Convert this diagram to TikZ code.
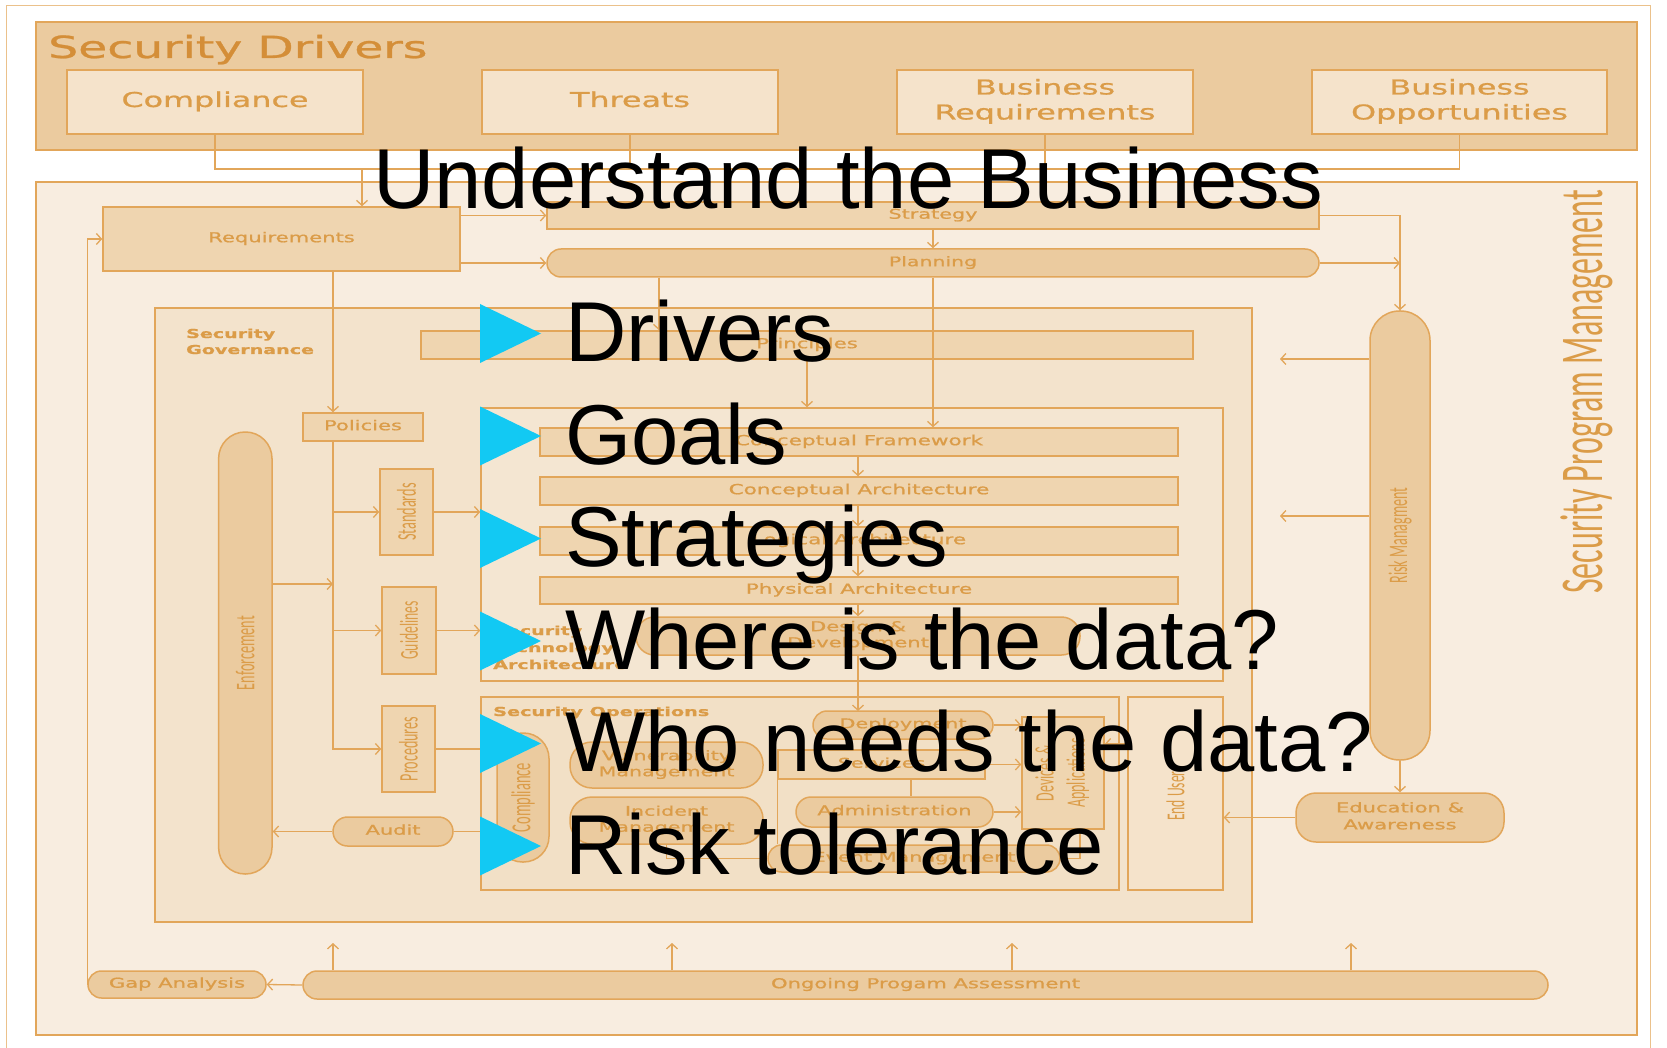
\documentclass[tikz,border=0pt]{standalone}
\usepackage{graphicx}
\usepackage{fontspec}
\setmainfont{Liberation Sans}
\newfontfamily\djfont[FakeBold=0.8]{DejaVu Sans}
\newfontfamily\cbfont{Carlito}
\usetikzlibrary{arrows.meta}
\definecolor{bord}{HTML}{E2A65A}
\definecolor{tanf}{HTML}{EBCB9F}
\definecolor{tanl}{HTML}{EFD5B0}
\definecolor{lightf}{HTML}{F5E3CB}
\definecolor{spmf}{HTML}{F8EDE0}
\definecolor{govf}{HTML}{F3E3CC}
\definecolor{staf}{HTML}{F4E6D2}
\definecolor{sof}{HTML}{F2E0C6}
\definecolor{txt}{HTML}{DB9C48}
\definecolor{sdt}{HTML}{D48E38}
\definecolor{cyanb}{HTML}{12C9F3}
\newcommand{\dtx}[3]{{\fontsize{#1}{#2}\selectfont\djfont\raisebox{-0.1em}{\scalebox{1.55}[1]{\begin{tabular}{@{}c@{}}#3\end{tabular}}}}}
\newcommand{\dts}[2]{{\fontsize{#1}{#1}\selectfont\djfont\scalebox{1.55}[1]{#2}}}
\newcommand{\dtb}[3]{{\fontsize{#1}{#2}\selectfont\djfont\bfseries\scalebox{1.55}[1]{\begin{tabular}[t]{@{}l@{}}#3\end{tabular}}}}
\newcommand{\rtx}[2]{{\fontsize{#1}{#1}\selectfont\cbfont\scalebox{1}[1.9]{#2}}}
\newcommand{\rtxm}[3]{{\fontsize{#1}{#2}\selectfont\cbfont\scalebox{1}[1.9]{\begin{tabular}{@{}c@{}}#3\end{tabular}}}}
\newcommand{\bx}[7]{\node[#2,minimum width={(#5)-(#3)},minimum height={(#6)-(#4)}] (#1) at ({((#3)+(#5))/2},{((#4)+(#6))/2}) {#7};}
\begin{document}
\begin{tikzpicture}[x=1pt,y=-1pt,
  ln/.style={draw=bord,line width=1.3pt},
  arr/.style={draw=bord,line width=1.3pt,-{Straight Barb[length=5pt,width=11pt]}},
  bxs/.style={draw=bord,line width=1.5pt,inner sep=0pt,text=txt},
  pill/.style={rounded corners=#1},
  lbl/.style={inner sep=0pt,text=txt},
  rlbl/.style={inner sep=0pt,text=txt,rotate=90},
  big/.style={inner sep=0pt,anchor=base west,text=black}]
\useasboundingbox (0,0) rectangle (1667,1048);
\fill[white] (0,0) rectangle (1667,1048);
\draw[bord!70,line width=1pt] (6,1048) -- (6,6) -- (1650,6) -- (1650,1048);

% ---- Security Drivers
\bx{sd}{bxs,fill=tanf}{36}{22}{1637}{150}{}
\node[lbl,anchor=base west,text=sdt] (sdl) at (48,58) {\dts{30.5}{Security Drivers}};
\bx{cmp}{bxs,fill=lightf}{67}{70}{363}{134}{\dtx{20.5}{25}{Compliance}}
\bx{thr}{bxs,fill=lightf}{482}{70}{778}{134}{\dtx{20.5}{25}{Threats}}
\bx{breq}{bxs,fill=lightf}{897}{70}{1193}{134}{\dtx{20.5}{25}{Business\\Requirements}}
\bx{bopp}{bxs,fill=lightf}{1312}{70}{1607}{134}{\dtx{20.5}{25}{Business\\Opportunities}}
\coordinate (bus) at (0,169);
\draw[ln] (cmp.south) |- (bopp.south |- bus) -- (bopp.south);
\draw[ln] (thr.south) -- (thr.south |- bus);
\draw[ln] (breq.south) -- (breq.south |- bus);

% ---- Security Program Management
\bx{spm}{bxs,fill=spmf}{36}{182}{1637}{1035}{}
\node[rlbl] (spml) at (1587,392) {\rtx{32}{Security Program Management}};

\bx{req}{bxs,fill=tanl}{103}{207}{460}{271}{\dtx{13.6}{16}{Requirements}}
\bx{strat}{bxs,fill=tanl}{547}{202}{1319}{229}{\dtx{13.4}{16}{Strategy}}
\bx{plan}{bxs,fill=tanf,pill=14}{547}{249}{1319}{277}{\dtx{13.2}{16}{Planning}}
\coordinate (rqx) at (362,0);
\draw[arr] (bus -| rqx) -- (req.north -| rqx);
\draw[arr] (req.east |- strat.west) -- (strat.west);
\draw[arr] (req.east |- plan.west) -- (plan.west);
\draw[arr] (strat.south) -- (plan.north);

\bx{rm}{bxs,fill=tanf,pill=29.5}{1370}{311}{1430}{760}{}
\node[rlbl] (rml) at (rm.center) {\rtx{14.1}{Risk Managment}};
\draw[arr] (strat.east) -| (rm.north);
\draw[arr] (plan.east) -- (plan.east -| rm.north);
\coordinate (rma) at (1280,359);
\coordinate (rmb) at (1280,516);
\draw[arr] (rm.west |- rma) -- (rma);
\draw[arr] (rm.west |- rmb) -- (rmb);
\bx{edu}{bxs,fill=tanf,pill=20}{1296}{793}{1504}{842}{\dtx{13.6}{17}{Education \&\\Awareness}}
\draw[arr] (rm.south) -- (edu.north);

% ---- Security Governance
\bx{gov}{bxs,fill=govf}{155}{308}{1252}{922}{}
\node[lbl,anchor=base west] (govl) at (186,338) {\dtb{12.3}{16}{Security\\Governance}};
\bx{prin}{bxs,fill=tanl}{421}{331}{1193}{359}{\dtx{13.7}{16}{Principles}}
\bx{pol}{bxs,fill=tanl}{303}{413}{423}{441}{\dtx{13.6}{16}{Policies}}
\coordinate (px) at (333,0);
\coordinate (qx) at (659,0);
\coordinate (rx) at (933,0);
\coordinate (sx) at (807,0);
\coordinate (cx) at (858,0);
\draw[arr] (req.south -| px) -- (pol.north -| px);
\draw[arr] (plan.south -| qx) -- (prin.north -| qx);

% ---- Security Technology Architecture
\bx{sta}{bxs,fill=staf}{481}{408}{1223}{681}{}
\node[lbl,anchor=base west] (stal) at (493,635) {\dtb{12.3}{17}{Security\\Technology\\Architecture}};
\bx{cf}{bxs,fill=tanl}{540}{428}{1178}{456}{\dtx{13.9}{16}{Conceptual Framework}}
\bx{ca}{bxs,fill=tanl}{540}{477}{1178}{505}{\dtx{13.9}{16}{Conceptual Architecture}}
\bx{la}{bxs,fill=tanl}{540}{527}{1178}{555}{\dtx{13.9}{16}{Logical Architecture}}
\bx{pa}{bxs,fill=tanl}{540}{577}{1178}{604}{\dtx{13.9}{16}{Physical Architecture}}
\bx{dd}{bxs,fill=tanf,pill=18.5}{636}{617}{1080}{655}{\dtx{13.6}{16}{Design \&\\Development}}
\draw[arr] (plan.south -| rx) -- (cf.north -| rx);
\draw[arr] (prin.south -| sx) -- (sta.north -| sx);
\draw[arr] (cf.south -| cx) -- (ca.north -| cx);
\draw[arr] (ca.south -| cx) -- (la.north -| cx);
\draw[arr] (la.south -| cx) -- (pa.north -| cx);
\draw[arr] (pa.south -| cx) -- (dd.north -| cx);

% ---- Standards, guidelines, procedures
\bx{std}{bxs,fill=tanl}{380}{469}{433}{555}{}
\node[rlbl] (stdl) at (std.center) {\rtx{14.3}{Standards}};
\bx{gdl}{bxs,fill=tanl}{382}{587}{436}{674}{}
\node[rlbl] (gdll) at (gdl.center) {\rtx{13.6}{Guidelines}};
\bx{prc}{bxs,fill=tanl}{382}{706}{435}{792}{}
\node[rlbl] (prcl) at (prc.center) {\rtx{14.1}{Procedures}};
\draw[arr] (pol.south -| px) |- (prc.west);
\draw[arr] (px |- std.west) -- (std.west);
\draw[arr] (px |- gdl.west) -- (gdl.west);
\draw[arr] (std.east) -- (std.east -| sta.west);
\draw[arr] (gdl.east) -- (gdl.east -| sta.west);

\bx{enf}{bxs,fill=tanf,pill=26.5}{218.6}{432}{272}{874}{}
\node[rlbl] (enfl) at (enf.center) {\rtx{14.2}{Enforcement}};
\coordinate (ey) at (0,584);
\draw[arr] (enf.east |- ey) -- (px |- ey);
\bx{aud}{bxs,fill=tanf,pill=14.5}{333}{817}{453}{846}{\dtx{13.5}{16}{Audit}}
\draw[arr] (aud.west) -- (aud.west -| enf.east);

% ---- Security Operations
\bx{so}{bxs,fill=sof}{481}{697}{1119}{890}{}
\node[lbl,anchor=base west] (sol) at (493,716) {\dtb{12.4}{16}{Security Operations}};
\draw[ln] (prc.east) -- (prc.east -| so.west);
\draw[ln] (so.west |- aud.east) -- (aud.east);
\draw[arr] (dd.south -| cx) -- (cx |- 0,711);
\bx{scmp}{bxs,fill=tanf,pill=25.5}{497}{733}{549}{862}{}
\node[rlbl] (scmpl) at (scmp.center) {\rtx{14.5}{Compliance}};
\bx{vm}{bxs,fill=tanf,pill=22}{570}{742}{763}{788}{\dtx{13.3}{16}{Vulnerability\\Management}}
\bx{im}{bxs,fill=tanf,pill=22}{570}{797}{763}{844}{\dtx{13.3}{16}{Incident\\Management}}
\bx{dep}{bxs,fill=tanf,pill=14}{813}{711}{993}{739}{\dtx{13.4}{16}{Deployment}}
\bx{svc}{bxs,fill=tanl}{778}{750}{985}{779}{\dtx{13.4}{16}{Services}}
\bx{adm}{bxs,fill=tanf,pill=15}{796}{797}{993}{827}{\dtx{13.6}{16}{Administration}}
\bx{evt}{bxs,fill=tanf,pill=13.5}{768}{845}{1060}{872}{\dtx{13.4}{16}{Event Management}}
\bx{dev}{bxs,fill=tanl}{1022}{717}{1104}{829}{}
\node[rlbl] (devl) at (dev.center) {\rtxm{14}{16.5}{Devices \&\\Applications}};
\bx{eu}{bxs,fill=lightf}{1128}{697}{1223}{890}{}
\node[rlbl] (eul) at (eu.center) {\rtx{13.6}{End Users}};
\coordinate (vx) at (911,0);
\coordinate (ex) at (1080,0);
\coordinate (euy) at (0,744);
\draw[ln] (svc.south -| vx) -- (adm.north -| vx);
\draw[arr] (dep.east) -- (dep.east -| dev.west);
\draw[arr] (svc.east) -- (svc.east -| dev.west);
\draw[arr] (adm.east) -- (adm.east -| dev.west);
\draw[arr] (eu.west |- euy) -- (dev.east |- euy);
\draw[ln] (svc.south west) -- (svc.south west |- evt.north);
\draw[arr] (im.south) |- (evt.west);
\draw[arr] (dev.south -| ex) |- (evt.east);
\draw[arr] (edu.west) -- (edu.west -| eu.east);

% ---- Bottom
\bx{gap}{bxs,fill=tanf,pill=13.5}{88}{971}{266}{998}{\dtx{13.6}{16}{Gap Analysis}}
\bx{opa}{bxs,fill=tanf,pill=14}{303}{971}{1548}{999}{\dtx{13.6}{16}{Ongoing Progam Assessment}}
\draw[arr] (opa.west) -- (gap.east);
\draw[arr] (gap.west) |- (req.west);
\foreach \ax [count=\i] in {333,672,1012,1351} {
  \coordinate (ua\i) at (\ax,943);
  \draw[arr] (ua\i |- opa.north) -- (ua\i);
}

% ---- Overlay
\foreach \yy in {333.5,436,538.5,641,743.5,846}
  \fill[cyanb] (480,\yy-29.5) -- (480,\yy+29.5) -- (541,\yy) -- cycle;
\node[big,font=\fontsize{85}{85}\selectfont] (title) at (373,209) {Understand the Business};
\node[big,font=\fontsize{85}{85}\selectfont] (b1) at (565,362) {Drivers};
\node[big,font=\fontsize{85}{85}\selectfont] (b2) at (565,464.5) {Goals};
\node[big,font=\fontsize{85}{85}\selectfont] (b3) at (565,566.5) {Strategies};
\node[big,font=\fontsize{85}{85}\selectfont] (b4) at (565,669.5) {Where is the data?};
\node[big,font=\fontsize{85}{85}\selectfont] (b5) at (565,771.5) {Who needs the data?};
\node[big,font=\fontsize{85}{85}\selectfont] (b6) at (565,874.5) {Risk tolerance};
\end{tikzpicture}
\end{document}
